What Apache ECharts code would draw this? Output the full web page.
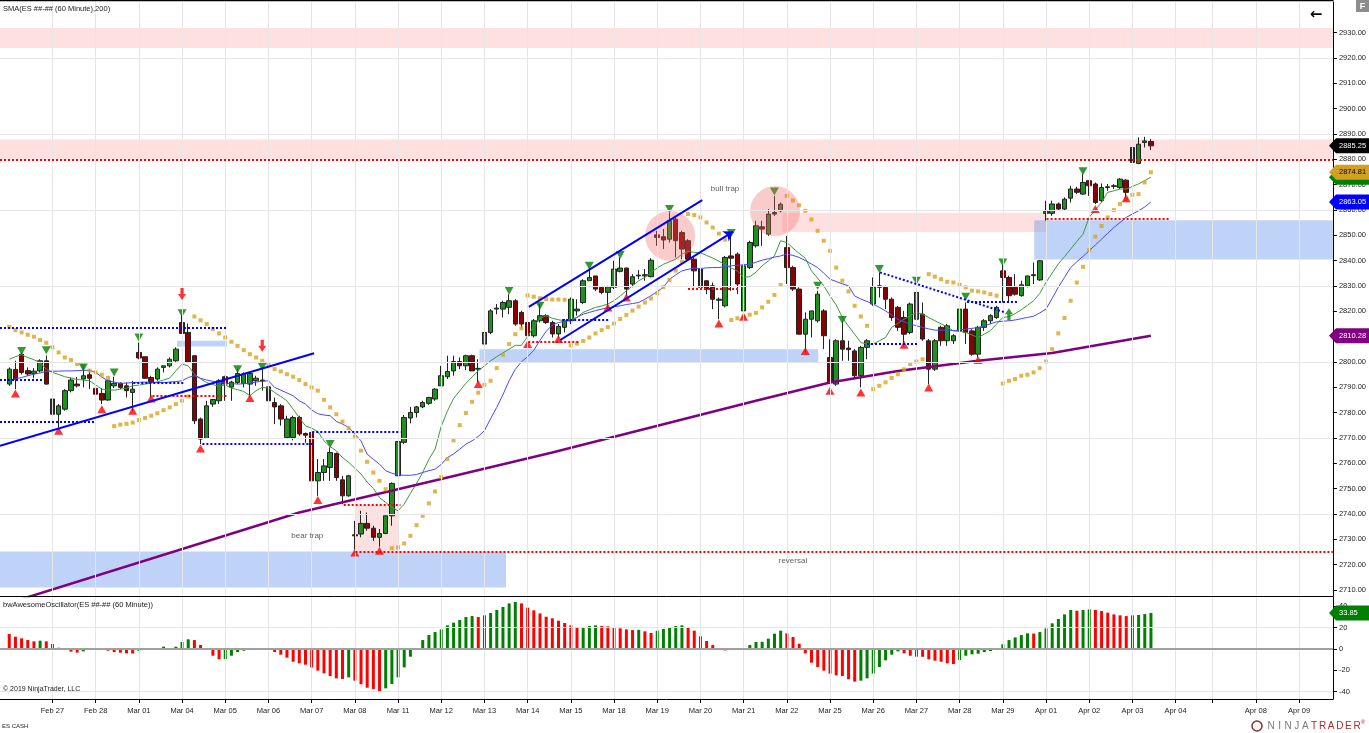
<!DOCTYPE html>
<html><head><meta charset="utf-8">
<script src="https://cdn.jsdelivr.net/npm/echarts@6/dist/echarts.min.js"></script>
<style>html,body{margin:0;padding:0;background:#fff;overflow:hidden}#c{width:1369px;height:733px}</style>
</head><body><div id="c"></div>
<script>
// ---------------- DATA ----------------
const dayLabels = ['Feb 26','Feb 27','Feb 28','Mar 01','Mar 04','Mar 05','Mar 06','Mar 07','Mar 08','Mar 11','Mar 12','Mar 13','Mar 14','Mar 15','Mar 18','Mar 19','Mar 20','Mar 21','Mar 22','Mar 25','Mar 26','Mar 27','Mar 28','Mar 29','Apr 01','Apr 02','Apr 03','Apr 04','','Apr 08','Apr 09'];
const dayBars = [7,7,7,7,7,7,7,7,7,7,7,7,7,7,7,7,7,7,7,7,7,7,7,7,7,7,7,6,7,7,6];

const opens = [2791.2,2797.0,2803.0,2796.5,2795.4,2796.4,2800.4,2785.3,2779.3,2781.3,
2788.6,2791.2,2793.2,2794.9,2789.5,2787.5,2784.9,2790.5,2791.5,2790.5,
2787.9,2803.7,2802.0,2793.8,2793.2,2797.8,2798.4,2800.4,2815.5,2811.6,
2802.4,2777.4,2769.7,2783.3,2784.6,2794.1,2790.0,2791.8,2791.5,2791.2,
2792.5,2792.5,2790.1,2783.9,2782.6,2770.1,2770.1,2778.0,2771.7,2772.1,
2753.0,2756.3,2758.3,2763.8,2753.4,2747.1,2731.7,2732.0,2736.2,2734.3,
2730.7,2732.2,2739.2,2755.0,2768.2,2777.8,2780.0,2782.2,2783.6,2785.3,
2790.5,2794.1,2796.4,2800.1,2798.4,2802.4,2797.1,2807.0,2811.6,2820.8,
2820.8,2821.5,2824.1,2819.5,2815.5,2810.3,2816.2,2818.2,2815.5,2811.0,
2813.6,2816.2,2820.1,2823.4,2832.0,2833.9,2829.4,2827.4,2829.4,2835.7,
2837.0,2830.7,2834.2,2833.9,2833.6,2850.1,2849.4,2848.4,2856.3,2851.0,
2847.8,2840.5,2836.6,2832.0,2830.0,2824.7,2822.1,2841.8,2842.5,2820.1,
2837.2,2845.8,2853.3,2850.4,2858.9,2859.6,2845.1,2837.2,2828.7,2810.9,
2816.8,2816.2,2820.1,2801.7,2791.2,2808.3,2805.4,2804.3,2794.5,2805.7,
2822.8,2830.0,2829.4,2824.7,2821.5,2817.5,2811.6,2816.8,2818.8,2808.3,
2797.1,2813.6,2808.3,2808.3,2812.2,2820.8,2812.2,2803.0,2813.6,2816.2,
2817.5,2835.9,2833.3,2829.4,2826.1,2830.0,2834.0,2832.3,2858.6,2858.6,
2862.3,2860.3,2864.6,2868.2,2866.2,2871.5,2870.2,2863.6,2869.1,2869.2,
2868.8,2871.7,2884.6,2878.3,2886.6,2887.0];
const highs = [2797.8,2800.4,2803.7,2797.8,2797.5,2801.0,2802.5,2789.2,2783.3,2789.2,
2793.8,2794.0,2797.8,2797.1,2792.5,2789.6,2793.2,2794.1,2791.9,2791.9,
2792.5,2807.6,2802.0,2794.5,2797.8,2798.4,2801.7,2805.7,2818.8,2815.1,
2802.4,2778.0,2784.6,2785.3,2793.2,2794.5,2792.5,2797.1,2795.8,2795.8,
2794.5,2797.8,2790.5,2785.9,2783.3,2778.7,2778.7,2778.7,2772.1,2772.5,
2761.6,2761.6,2766.2,2764.2,2755.0,2755.4,2737.2,2741.2,2740.5,2735.3,
2734.0,2739.2,2752.4,2768.6,2779.0,2782.2,2782.6,2784.6,2786.2,2789.6,
2798.4,2802.4,2802.4,2801.7,2802.8,2802.8,2801.0,2812.2,2820.8,2822.8,
2824.1,2826.7,2824.7,2820.1,2817.5,2816.9,2822.8,2818.8,2816.2,2814.9,
2816.9,2825.4,2824.7,2832.6,2837.2,2833.9,2829.6,2830.0,2839.9,2841.2,
2837.2,2834.6,2836.2,2836.6,2840.9,2851.7,2852.4,2858.9,2857.0,2851.7,
2848.4,2841.2,2837.2,2832.0,2831.3,2825.4,2841.8,2849.7,2843.2,2838.5,
2847.8,2855.7,2855.7,2860.3,2865.5,2862.9,2849.7,2837.9,2829.4,2819.5,
2820.1,2828.0,2820.8,2808.9,2808.9,2816.2,2808.3,2805.0,2806.3,2809.0,
2833.3,2835.3,2830.0,2825.4,2822.1,2820.1,2823.4,2833.3,2823.4,2809.0,
2809.0,2814.2,2814.9,2810.9,2824.7,2823.4,2812.9,2814.2,2816.9,2818.8,
2822.1,2838.5,2834.0,2834.6,2832.0,2833.9,2839.2,2840.2,2863.6,2863.6,
2862.9,2864.9,2869.5,2869.1,2874.1,2871.7,2870.8,2870.4,2870.2,2870.2,
2872.5,2872.1,2885.3,2888.6,2888.8,2887.9];
const lows = [2790.5,2789.2,2795.0,2794.5,2793.5,2795.8,2790.9,2776.0,2774.1,2780.7,
2787.9,2789.9,2789.9,2789.2,2784.0,2783.3,2784.6,2789.6,2789.2,2785.9,
2780.7,2801.0,2793.2,2785.9,2792.5,2795.8,2797.8,2800.0,2811.0,2799.7,
2775.4,2767.5,2769.5,2782.2,2783.3,2784.6,2784.6,2791.2,2789.9,2786.0,
2790.5,2788.6,2781.0,2775.4,2774.8,2769.5,2769.0,2770.8,2768.0,2750.1,
2747.1,2753.0,2753.0,2753.0,2743.8,2746.7,2726.0,2730.7,2733.3,2729.3,
2727.0,2732.0,2735.3,2754.9,2767.5,2775.7,2778.0,2781.7,2783.0,2784.6,
2790.5,2793.2,2794.5,2797.1,2796.7,2796.4,2791.8,2805.7,2810.9,2818.8,
2817.5,2818.8,2814.2,2813.6,2806.3,2809.6,2815.5,2814.9,2809.6,2809.6,
2811.6,2814.9,2818.2,2822.8,2832.0,2828.0,2826.7,2820.8,2828.7,2835.3,
2826.1,2829.4,2832.6,2832.0,2833.3,2845.8,2844.5,2847.1,2841.2,2840.5,
2839.9,2829.4,2828.7,2826.7,2820.8,2816.8,2821.5,2828.0,2826.7,2819.5,
2836.6,2845.1,2845.8,2849.7,2857.6,2859.0,2830.7,2828.0,2810.9,2803.7,
2809.6,2815.5,2805.0,2791.2,2790.5,2800.4,2800.4,2793.2,2789.9,2801.0,
2822.1,2825.4,2820.8,2816.2,2812.2,2806.3,2810.9,2816.2,2808.3,2791.2,
2796.4,2806.3,2806.3,2807.0,2811.6,2807.0,2802.4,2801.7,2812.2,2814.9,
2816.9,2823.4,2823.4,2826.1,2825.7,2829.4,2830.7,2832.0,2855.7,2857.6,
2859.6,2859.6,2862.9,2866.2,2865.9,2865.5,2862.3,2862.9,2867.5,2868.2,
2868.2,2864.2,2874.4,2878.0,2884.6,2883.6];
const closes = [2797.1,2793.0,2795.8,2795.2,2796.3,2800.4,2791.2,2779.3,2782.6,2788.6,
2792.8,2790.5,2794.5,2793.5,2787.2,2784.9,2792.5,2791.5,2789.9,2788.6,
2789.2,2801.5,2793.5,2791.9,2797.1,2798.4,2801.0,2805.0,2811.2,2799.8,
2776.7,2769.5,2782.6,2785.1,2792.5,2791.2,2792.0,2795.4,2795.1,2795.4,
2793.5,2792.8,2784.6,2782.2,2777.4,2777.4,2778.0,2771.5,2771.0,2753.0,
2756.3,2758.9,2764.2,2754.3,2747.1,2755.0,2731.3,2736.2,2734.3,2730.7,
2732.2,2739.2,2752.0,2768.5,2778.0,2780.0,2782.2,2783.9,2785.9,2789.2,
2794.5,2796.2,2800.1,2798.4,2802.4,2796.4,2797.4,2811.6,2820.1,2821.2,
2823.4,2824.1,2814.9,2814.9,2810.3,2816.2,2818.2,2815.5,2811.0,2814.0,
2816.2,2824.7,2820.8,2832.0,2833.3,2828.7,2827.4,2829.6,2836.6,2837.0,
2828.7,2833.6,2833.9,2834.4,2840.1,2849.1,2848.1,2855.7,2847.8,2844.5,
2840.5,2835.9,2829.4,2828.7,2824.7,2824.3,2841.2,2840.9,2830.7,2837.9,
2847.1,2853.7,2852.4,2858.3,2858.3,2862.2,2837.2,2828.7,2810.9,2816.8,
2820.1,2826.7,2810.3,2791.8,2808.3,2805.0,2804.8,2794.5,2805.7,2808.3,
2829.4,2829.4,2824.7,2817.5,2813.6,2810.9,2822.8,2827.4,2809.0,2797.1,
2808.3,2808.3,2814.2,2810.3,2820.8,2811.6,2803.0,2813.6,2816.2,2818.2,
2821.5,2833.3,2826.1,2826.7,2830.4,2833.9,2834.4,2839.9,2859.3,2862.3,
2860.3,2864.2,2868.2,2866.9,2870.8,2869.5,2862.9,2868.8,2868.8,2869.5,
2872.1,2866.9,2878.7,2885.9,2887.2,2885.25];

const smaFast = [2801,2802,2802.8,2801.7,2800.8,2799.7,2797.1,2795.8,2795,2794.1,
2793.6,2793,2792.8,2792.5,2790.9,2789.2,2788.9,2788.8,2789.2,2789.6,
2790.5,2790.8,2791.2,2791.6,2792.1,2792.8,2793.6,2796.4,2799.1,2798.4,
2795.1,2793.3,2791.8,2791,2790.3,2790.9,2789.6,2789,2788.3,2786.6,
2788.6,2789.9,2789.6,2787.9,2786.3,2784.6,2781.3,2778,2774.7,2773.8,
2772.5,2768.8,2766.5,2764.9,2762.2,2760.3,2758,2755.7,2752.5,2750,
2746.4,2744.5,2742.5,2741.2,2743.8,2748,2752,2756.3,2761.5,2765.5,
2774.5,2780.5,2785.5,2788.5,2791.5,2794,2796.4,2798.4,2800.4,2802,
2803.5,2805,2806.5,2806.5,2810,2814,2817,2818.2,2817.2,2816.6,
2816.2,2816.8,2817.5,2819.5,2820.5,2821.5,2822,2822.8,2824.1,2826,
2828,2830,2832,2833.3,2835.3,2837,2838.5,2839.5,2840.5,2842.5,
2843.6,2843.2,2843,2842,2841,2839.7,2838.3,2837,2835.9,2833.3,
2833.6,2835.3,2837.9,2839.8,2841.8,2847.8,2847.1,2844.9,2842.8,2840.9,
2835.9,2833,2830,2826,2822.5,2817.5,2814,2810.9,2807.6,2807,
2807,2808.3,2809.6,2813.6,2815.2,2816.8,2818.2,2819.5,2818.8,2817.5,
2816.2,2815,2813.8,2812.2,2812,2811.6,2810.6,2809.6,2810.9,2812.3,
2814.9,2817.5,2817.8,2819,2820.5,2822.3,2824.1,2827,2831.3,2835,
2838.6,2841.5,2844.5,2847.5,2850.4,2857,2860,2862.9,2866.9,2867.5,
2868.2,2868.2,2869.2,2870.2,2871.5,2872.9];
const smaSlow = [2792.5,2793.2,2793.8,2794.5,2795.1,2795.6,2796.2,2796.3,2796.3,2796.4,
2796.4,2796.5,2796.6,2796.7,2795.8,2794,2792.5,2792,2791.5,2791.6,
2791.8,2791.9,2792,2791.9,2791.8,2791.8,2792,2792.2,2792.5,2793.8,
2794.5,2793.5,2792.8,2792.3,2791.8,2791.6,2791.4,2791.2,2791.3,2791.6,
2792,2792.3,2792.5,2789.9,2788.8,2787.7,2786.6,2784.6,2783.3,2781,
2779.5,2779,2778.7,2776.5,2775.4,2774.1,2771.5,2768.8,2763.5,2761.5,
2759.6,2757,2756,2755.4,2755.2,2755.2,2755.5,2756.3,2757,2757.6,
2759.5,2762.2,2763.6,2765.5,2767.5,2768.8,2770.5,2772.8,2777.5,2782,
2787,2792.5,2797,2800,2802,2804.5,2808.5,2812,2814.5,2815.5,
2816,2816.2,2817.5,2818.8,2819.5,2820.2,2820.8,2821.3,2821.7,2822.1,
2822.6,2823,2823.4,2824.7,2826.1,2827.7,2829.4,2832.6,2834.3,2835.9,
2836.5,2837,2836.8,2837.1,2837.2,2837.2,2837.5,2837.9,2838.1,2838.3,
2838.5,2839.3,2840.1,2840.7,2841.3,2841.8,2842.5,2842,2841.2,2840,
2838.6,2837.2,2835,2832.6,2831.7,2830.8,2830,2826,2824.8,2823.8,
2822.8,2821.5,2820.1,2818.5,2816.8,2815.8,2814.9,2814.2,2813.6,2813,
2812.5,2812.5,2812.5,2812.3,2812.6,2812.9,2813.2,2813.5,2814.2,2815,
2815.8,2816,2816.2,2816.5,2817,2817.5,2818,2819.3,2820.8,2825,
2829.4,2833.3,2837.2,2839.5,2841.6,2843.8,2846.1,2848.4,2850.7,2853,
2855,2857,2858.3,2859.6,2861.1,2863.05];
// SMA(200) read at a few bars along its nearly straight path
const sma200Bars = [0,47,70,88,121,133,144,157,169,185];
const sma200Vals = [2704.8,2740.5,2753.7,2764.2,2784.6,2791.8,2796.4,2800.4,2803.5,2810.28];

const sar = [2813.8,2812.5,2811.6,2810.7,2809.9,2808.6,2807.5,2805.7,2803.7,2801.7,
2800.7,2799.1,2798.2,2796.5,2795.8,2794.9,2793.6,2774.6,2775.2,2775.5,
2776.0,2777.0,2777.8,2778.7,2779.7,2780.9,2782.0,2783.3,2784.6,2786.3,
2817.9,2816.4,2814.9,2812.9,2811.2,2809.6,2807.9,2806.3,2804.6,2803.0,
2801.7,2800.4,2798.8,2797.1,2796.2,2795.1,2794.1,2792.8,2791.2,2789.9,
2788.6,2785.0,2782.0,2779.3,2776.4,2773.8,2770.4,2764.9,2760.5,2756.3,
2753.0,2749.7,2726.4,2726.7,2728.3,2731.3,2735.5,2739.2,2744.1,2748.8,
2754.5,2761.6,2769.0,2775.0,2779.8,2784.2,2787.8,2790.9,2792.5,2797.5,
2802.8,2807.0,2810.9,2813.2,2826.2,2825.7,2825.1,2824.8,2824.6,2824.6,
2824.5,2806.5,2807.2,2808.2,2809.6,2811.2,2812.5,2813.7,2815.1,2816.9,
2818.5,2820.2,2821.8,2823.4,2825.0,2827.1,2829.5,2832.3,2836.0,2839.5,
2858.3,2857.9,2857.0,2855.0,2853.0,2850.6,2848.2,2816.5,2817.2,2817.9,
2818.6,2819.3,2821.5,2823.7,2826.4,2830.3,2865.5,2863.7,2861.8,2859.6,
2856.2,2851.7,2847.8,2843.8,2837.2,2832.0,2827.8,2822.1,2817.9,2814.2,
2789.2,2790.5,2791.9,2793.6,2795.1,2797.0,2799.1,2800.1,2801.0,2834.6,
2833.6,2832.6,2831.6,2831.3,2830.4,2829.4,2828.1,2827.8,2827.4,2826.7,
2826.1,2791.4,2792.5,2793.2,2794.5,2794.9,2795.8,2797.5,2800.1,2805.0,
2811.2,2817.3,2824.1,2831.3,2837.5,2844.1,2849.4,2853.6,2857.0,2859.9,
2862.3,2864.3,2865.9,2866.2,2870.8,2874.81];

const osc = [14.1,11.6,10.0,8.4,7.2,7.8,7.2,4.7,1.2,-0.6,
-2.5,-3.4,-2.2,0.3,0.4,-0.9,-1.6,-2.8,-3.4,-4.1,
-4.2,-1.6,-0.9,-0.6,0.0,2.2,0.9,2.2,6.6,9.1,
8.4,3.8,-0.9,-6.3,-9.7,-9.5,-6.3,-2.8,-1.6,-0.6,
0.0,0.6,-0.9,-2.8,-5.3,-8.1,-11.9,-13.4,-14.7,-17.2,
-20.3,-22.8,-25.3,-27.5,-28.1,-26.6,-29.7,-33.1,-36.3,-37.5,
-39.7,-36.9,-32.8,-26.6,-17.2,-7.2,0.5,8.4,13.1,15.9,
18.4,22.2,24.7,27.2,30.0,30.9,30.0,31.6,33.8,36.6,
39.4,42.8,44.1,42.8,38.8,36.3,33.4,30.3,28.8,26.6,
24.4,22.2,20.0,20.3,21.6,22.2,21.6,21.3,20.3,19.4,
18.4,17.8,18.0,16.6,15.0,17.2,18.8,20.3,21.6,22.2,
20.3,17.2,11.9,7.5,3.8,-0.3,-1.3,0.0,0.1,0.3,
3.8,6.6,6.8,9.7,14.4,17.2,14.7,11.3,5.0,-4.1,
-12.8,-16.9,-20.3,-23.1,-24.7,-25.3,-28.4,-30.6,-29.7,-27.5,
-23.1,-16.9,-10.6,-5.3,-2.2,-4.1,-6.3,-7.2,-7.3,-9.7,
-10.9,-11.9,-13.4,-14.1,-10.3,-6.3,-5.0,-4.4,-2.8,-1.9,
-0.9,4.4,8.4,10.9,13.1,14.7,14.5,15.9,19.4,24.1,
28.1,32.5,36.6,35.9,36.6,37.2,36.6,35.6,34.1,32.5,
31.6,30.9,31.6,31.9,32.8,33.85];

// swing markers [bar, price]
const swingLows = [[1,2787.5],[8,2772.8],[15,2781.3],[20,2780.7],[23,2785.5],[31,2765.8],[39,2785.7],[50,2745.4],[56,2724.7],[60,2725.4],[76,2791.2],[84,2807.0],[89,2809.0],[97,2821.4],[100,2825.4],[115,2815.1],[119,2817.8],[129,2804.3],[133,2788.6],[138,2787.9],[145,2806.7],[149,2789.9],[157,2800.7],[176,2860.3],[181,2864.6]];
const swingHighs = [[2,2804.3],[6,2804.6],[12,2797.7],[17,2795.8],[21,2809.6],[28,2819.2],[37,2797.1],[41,2798.0],[52,2767.5],[81,2828.0],[86,2822.1],[94,2837.9],[99,2842.2],[107,2860.3],[117,2850.8],[124,2867.2],[131,2830.0],[135,2816.5],[141,2836.6],[147,2832.0],[155,2825.7],[161,2839.2],[174,2875.2]];

const priceTicks = [2710,2720,2730,2740,2750,2760,2770,2780,2790,2800,2810,2820,2830,2840,2850,2860,2870,2880,2890,2900,2910,2920,2930];
const priceGridVals = [2740,2770,2800,2830,2860,2890,2920];
const oscTicks = [-40,-20,0,20,40];
const oscGridVals = [20,-40];

// drawn objects, in bar / price units: [barFrom, barTo, priceTop, priceBottom]
const pinkZones = [[-1.5,214.5,2931.8,2923.9],[-1.5,214.5,2887.9,2879.7],[125.3,168.2,2858.8,2851.2],[56.1,63.2,2743.5,2725.2]];
const blueZones = [[166.1,214.5,2855.9,2840.4],[76.2,131.1,2805.0,2799.7],[27.2,35.3,2808.3,2806.0],[-1.5,80.5,2725.1,2710.9]];
// [barFrom, barTo, price]
const redDotted = [[-1.5,214.5,2879.7],[56.1,214.5,2725.2],[54.2,63.4,2743.5],[23.2,35.3,2786.7],[84.1,92.2,2807.9],[110.0,118.1,2828.7],[168.1,188.1,2856.3]];
const blueDotted = [[-1.5,35.4,2813.5],[-1.5,5.4,2793.0],[20.1,28.2,2791.8],[-1.5,14.0,2776.4],[31.3,49.1,2767.5],[49.1,63.4,2772.5],[89.6,97.1,2816.5],[139.0,147.3,2807.0],[155.2,163.3,2823.8]];
// sloped: [bar1, price1, bar2, price2]
const blueDottedSloped = [[141.1,2835.3,161.4,2819.5]];
const trendLines = [[-1.5,2766.8,49.4,2803.4],[84.2,2821.7,112.3,2863.8]];
const trendArrowLines = [[89.3,2808.6,117.3,2851.4]];
const circles = [[107.1,2849.7],[124.1,2859.5]];
const downArrows = [[28,2826.8],[41,2806.3]];
const upArrows = [[162,2818.8]];
const notes = [['bull trap',116.0,2868.2],['bear trap',48.3,2731.2],['reversal',127.0,2721.4]];

// ---------------- BUILD ----------------
// one leading empty slot so the plot starts at the left edge of the window
const categories = ['pad|0'];
const tickIdx = [];
dayLabels.forEach((d, k) => {
  if (k > 0) tickIdx.push(categories.length);
  for (let j = 0; j < dayBars[k]; j++) categories.push(d + '|' + j);
});
const tickSet = new Set(tickIdx);
const N = categories.length;
const tickBars = tickIdx.map(i => i - 1);      // in bar units for the value axes
const FONT = '"Liberation Sans", Arial, sans-serif';
const TXT = '#222';

const chart = echarts.init(document.getElementById('c'), null, {renderer: 'canvas'});

const candleData = [['-', '-', '-', '-']].concat(opens.map((o, i) => [o, closes[i], lows[i], highs[i]]));
const oscData = ['-'].concat(osc.map((v, i) => ({value: v, itemStyle: {color: (i > 0 && v > osc[i - 1]) ? '#008000' : '#ff0000'}})));

const areaItems = [];
pinkZones.forEach(z => areaItems.push([{coord: [z[0], z[2]], itemStyle: {color: 'rgba(255,0,0,0.12)'}}, {coord: [z[1], z[3]]}]));
blueZones.forEach(z => areaItems.push([{coord: [z[0], z[2]], itemStyle: {color: 'rgba(100,149,237,0.42)'}}, {coord: [z[1], z[3]]}]));

const drawLines = [];
redDotted.forEach(l => drawLines.push([{coord: [l[0], l[2]], lineStyle: {color: '#ff0000', width: 2, type: [2, 2]}}, {coord: [l[1], l[2]]}]));
blueDotted.forEach(l => drawLines.push([{coord: [l[0], l[2]], lineStyle: {color: '#0000ff', width: 2, type: [2, 2]}}, {coord: [l[1], l[2]]}]));
blueDottedSloped.forEach(l => drawLines.push([{coord: [l[0], l[1]], lineStyle: {color: '#0000ff', width: 2, type: [2, 2]}}, {coord: [l[2], l[3]]}]));
trendLines.forEach(l => drawLines.push([{coord: [l[0], l[1]], lineStyle: {color: '#0000ff', width: 2, type: 'solid'}}, {coord: [l[2], l[3]]}]));
trendArrowLines.forEach(l => drawLines.push([{coord: [l[0], l[1]], symbol: 'none', lineStyle: {color: '#0000ff', width: 2, type: 'solid'}}, {coord: [l[2], l[3]], symbol: 'arrow', symbolSize: 9}]));

const option = {
  animation: false,
  textStyle: {fontFamily: FONT},
  grid: [
    {left: 0, right: 36, top: 2, height: 594},
    {left: 0, right: 36, top: 597, height: 102}
  ],
  xAxis: [
    {type: 'category', gridIndex: 0, data: categories, boundaryGap: true, axisLine: {show: false}, axisTick: {show: false}, axisLabel: {show: false}, splitLine: {show: false}},
    {type: 'category', gridIndex: 1, data: categories, boundaryGap: true,
      axisLine: {show: true, onZero: false, lineStyle: {color: '#000', width: 1}},
      axisTick: {show: true, alignWithLabel: true, length: 4, interval: (i) => tickSet.has(i), lineStyle: {color: '#000'}},
      axisLabel: {show: true, interval: (i) => tickSet.has(i), formatter: (v) => v.split('|')[0], fontSize: 7.5, color: TXT, margin: 8, fontFamily: FONT},
      splitLine: {show: false}},
    {type: 'value', gridIndex: 0, min: -1.5, max: N - 1.5, show: false},
    {type: 'value', gridIndex: 1, min: -1.5, max: N - 1.5, show: false}
  ],
  yAxis: [
    {type: 'value', gridIndex: 0, position: 'right', min: 2707.54, max: 2942.04,
      axisLine: {show: true, onZero: false, lineStyle: {color: '#000', width: 1}},
      axisTick: {show: true, length: 4, customValues: priceTicks, lineStyle: {color: '#000'}},
      axisLabel: {show: true, customValues: priceTicks, formatter: (v) => v.toFixed(2), fontSize: 7.5, color: TXT, margin: 6, fontFamily: FONT},
      splitLine: {show: false}},
    {type: 'value', gridIndex: 1, position: 'right', min: -46.9, max: 48.8,
      axisLine: {show: true, onZero: false, lineStyle: {color: '#000', width: 1}},
      axisTick: {show: true, length: 4, customValues: oscTicks, lineStyle: {color: '#000'}},
      axisLabel: {show: true, customValues: oscTicks, formatter: (v) => String(v), fontSize: 7.5, color: TXT, margin: 6, fontFamily: FONT},
      splitLine: {show: false}}
  ],
  series: [
    {type: 'line', name: 'pgrid', xAxisIndex: 2, yAxisIndex: 0, data: [], z: 0, silent: true,
      markLine: {silent: true, symbol: 'none', label: {show: false}, animation: false,
        lineStyle: {color: '#e6e6e6', width: 1, type: 'solid'},
        data: priceGridVals.map(v => ({yAxis: v})).concat(tickBars.map(i => ({xAxis: i})))}},
    {type: 'line', name: 'ogrid', xAxisIndex: 3, yAxisIndex: 1, data: [], z: 0, silent: true,
      markLine: {silent: true, symbol: 'none', label: {show: false}, animation: false,
        lineStyle: {color: '#e6e6e6', width: 1, type: 'solid'},
        data: oscGridVals.map(v => ({yAxis: v})).concat(tickBars.map(i => ({xAxis: i})))}},
    {type: 'candlestick', name: 'ES', xAxisIndex: 0, yAxisIndex: 0, data: candleData, barWidth: 5, z: 2,
      itemStyle: {color: '#1f8f1f', color0: '#8b0000', borderColor: '#222', borderColor0: '#222', borderWidth: 1}},
    {type: 'line', name: 'smaFast', xAxisIndex: 2, yAxisIndex: 0, data: smaFast.map((v, i) => [i, v]), symbol: 'none', z: 3,
      lineStyle: {color: '#3a9a3a', width: 1}},
    {type: 'line', name: 'smaSlow', xAxisIndex: 2, yAxisIndex: 0, data: smaSlow.map((v, i) => [i, v]), symbol: 'none', z: 3,
      lineStyle: {color: '#4646ff', width: 1}},
    {type: 'line', name: 'sma200', xAxisIndex: 2, yAxisIndex: 0, data: sma200Bars.map((b, k) => [b, sma200Vals[k]]), symbol: 'none', z: 3,
      lineStyle: {color: '#800080', width: 2.5}},
    {type: 'scatter', name: 'sar', xAxisIndex: 2, yAxisIndex: 0, data: sar.map((v, i) => [i, v]), symbol: 'rect', symbolSize: 4, z: 3,
      itemStyle: {color: '#d9a21e'}},
    {type: 'scatter', name: 'swingLow', xAxisIndex: 2, yAxisIndex: 0, data: swingLows, symbol: 'triangle', symbolSize: [9, 8], z: 3,
      itemStyle: {color: '#ff0000'}},
    {type: 'scatter', name: 'swingHigh', xAxisIndex: 2, yAxisIndex: 0, data: swingHighs, symbol: 'triangle', symbolRotate: 180, symbolSize: [9, 8], z: 3,
      itemStyle: {color: '#008000'}},
    {type: 'line', name: 'zones', xAxisIndex: 2, yAxisIndex: 0, data: [], z: 4, silent: true,
      markArea: {silent: true, animation: false, label: {show: false}, data: areaItems}},
    {type: 'scatter', name: 'circles', xAxisIndex: 2, yAxisIndex: 0, data: circles, symbol: 'circle', symbolSize: 50, z: 4,
      itemStyle: {color: 'rgba(240,100,100,0.42)'}},
    {type: 'line', name: 'drawings', xAxisIndex: 2, yAxisIndex: 0, data: [], z: 6, silent: true,
      markLine: {silent: true, symbol: 'none', label: {show: false}, animation: false, data: drawLines}},
    {type: 'scatter', name: 'downArrows', xAxisIndex: 2, yAxisIndex: 0, data: downArrows, z: 7,
      symbol: 'path://M3,0 L7,0 L7,6 L10,6 L5,12 L0,6 L3,6 Z', symbolSize: [8, 12], itemStyle: {color: '#ff0000'}},
    {type: 'scatter', name: 'upArrows', xAxisIndex: 2, yAxisIndex: 0, data: upArrows, z: 7,
      symbol: 'path://M3,12 L7,12 L7,6 L10,6 L5,0 L0,6 L3,6 Z', symbolSize: [8, 12], itemStyle: {color: '#008000'}},
    {type: 'scatter', name: 'notes', xAxisIndex: 2, yAxisIndex: 0, z: 7, symbolSize: 1,
      itemStyle: {color: 'rgba(0,0,0,0)'},
      data: notes.map(n => ({name: n[0], value: [n[1], n[2]]})),
      label: {show: true, position: 'inside', formatter: '{b}', color: '#333', fontSize: 8, fontFamily: FONT}},
    {type: 'line', name: 'zero', xAxisIndex: 3, yAxisIndex: 1, data: [], z: 1, silent: true,
      markLine: {silent: true, symbol: 'none', label: {show: false}, animation: false,
        lineStyle: {color: '#a0a0a0', width: 2, type: 'solid'}, data: [{yAxis: 0}]}},
    {type: 'bar', name: 'AO', xAxisIndex: 1, yAxisIndex: 1, data: oscData, barWidth: 3, z: 3}
  ]
};
chart.setOption(option);

// value flags on the right axis
const flagDefs = [
  {axis: 0, value: closes[closes.length - 1], bg: '#000000', fg: '#ffffff'},
  {axis: 0, value: smaFast[smaFast.length - 1], bg: '#008000', fg: '#ffffff'},
  {axis: 0, value: sar[sar.length - 1], bg: '#d4a020', fg: '#000000'},
  {axis: 0, value: smaSlow[smaSlow.length - 1], bg: '#0000ff', fg: '#ffffff'},
  {axis: 0, value: sma200Vals[sma200Vals.length - 1], bg: '#800080', fg: '#ffffff'},
  {axis: 1, value: osc[osc.length - 1], bg: '#008000', fg: '#ffffff'}
];
const g = [];
g.push({type: 'line', shape: {x1: 0, y1: 0.5, x2: 1333.5, y2: 0.5}, style: {stroke: '#000', lineWidth: 1.5}, z: 50});
g.push({type: 'line', shape: {x1: 0, y1: 596.5, x2: 1333.5, y2: 596.5}, style: {stroke: '#000', lineWidth: 1}, z: 50});
g.push({type: 'text', style: {text: 'SMA(ES ##-## (60 Minute),200)', x: 3, y: 9, font: '7.5px ' + FONT, fill: TXT, textVerticalAlign: 'middle', verticalAlign: 'middle'}, z: 50});
g.push({type: 'text', style: {text: 'bwAwesomeOscillator(ES ##-## (60 Minute))', x: 3, y: 605, font: '7.5px ' + FONT, fill: TXT, textVerticalAlign: 'middle', verticalAlign: 'middle'}, z: 50});
g.push({type: 'text', style: {text: '\u00a9 2019 NinjaTrader, LLC', x: 3, y: 689, font: '7px ' + FONT, fill: TXT, textVerticalAlign: 'middle', verticalAlign: 'middle'}, z: 50});
g.push({type: 'text', style: {text: 'ES CASH', x: 2, y: 726, font: '6px ' + FONT, fill: TXT, textVerticalAlign: 'middle', verticalAlign: 'middle'}, z: 50});
g.push({type: 'text', style: {text: '\u2190', x: 1316, y: 15, font: 'bold 15px "DejaVu Sans", sans-serif', fill: '#000', textAlign: 'center', align: 'center', textVerticalAlign: 'middle', verticalAlign: 'middle'}, z: 50});
g.push({type: 'rect', shape: {x: 1356, y: 0, width: 13, height: 12}, style: {fill: '#8c8c8c'}, z: 50});
g.push({type: 'text', style: {text: 'F', x: 1362.5, y: 6.5, font: 'bold 9px ' + FONT, fill: '#fff', textAlign: 'center', align: 'center', textVerticalAlign: 'middle', verticalAlign: 'middle'}, z: 51});
// NinjaTrader logo
g.push({type: 'circle', shape: {cx: 1257, cy: 726, r: 5}, style: {fill: 'none', stroke: '#8a3030', lineWidth: 1.5}, z: 50});
const logo = 'NINJATRADER';
for (let k = 0; k < logo.length; k++) {
  g.push({type: 'text', style: {text: logo[k], x: 1271 + k * 8.6, y: 726, font: '10px ' + FONT, fill: k < 5 ? '#7a7a7a' : '#b02a2a', textAlign: 'center', align: 'center', textVerticalAlign: 'middle', verticalAlign: 'middle'}, z: 50});
}
g.push({type: 'text', style: {text: '\u00ae', x: 1363, y: 722, font: '6px ' + FONT, fill: '#b02a2a', textAlign: 'center', align: 'center', textVerticalAlign: 'middle', verticalAlign: 'middle'}, z: 50});
flagDefs.forEach((f, k) => {
  const y = chart.convertToPixel({yAxisIndex: f.axis}, f.value);
  g.push({type: 'polygon', shape: {points: [[1329, y], [1336, y - 7.5], [1369, y - 7.5], [1369, y + 7.5], [1336, y + 7.5]]}, style: {fill: f.bg}, z: 60 + k * 2});
  g.push({type: 'text', style: {text: f.value.toFixed(2), x: 1339, y: y, font: '7.5px ' + FONT, fill: f.fg, textVerticalAlign: 'middle', verticalAlign: 'middle'}, z: 61 + k * 2});
});
chart.setOption({graphic: g});
</script>
</body></html>
